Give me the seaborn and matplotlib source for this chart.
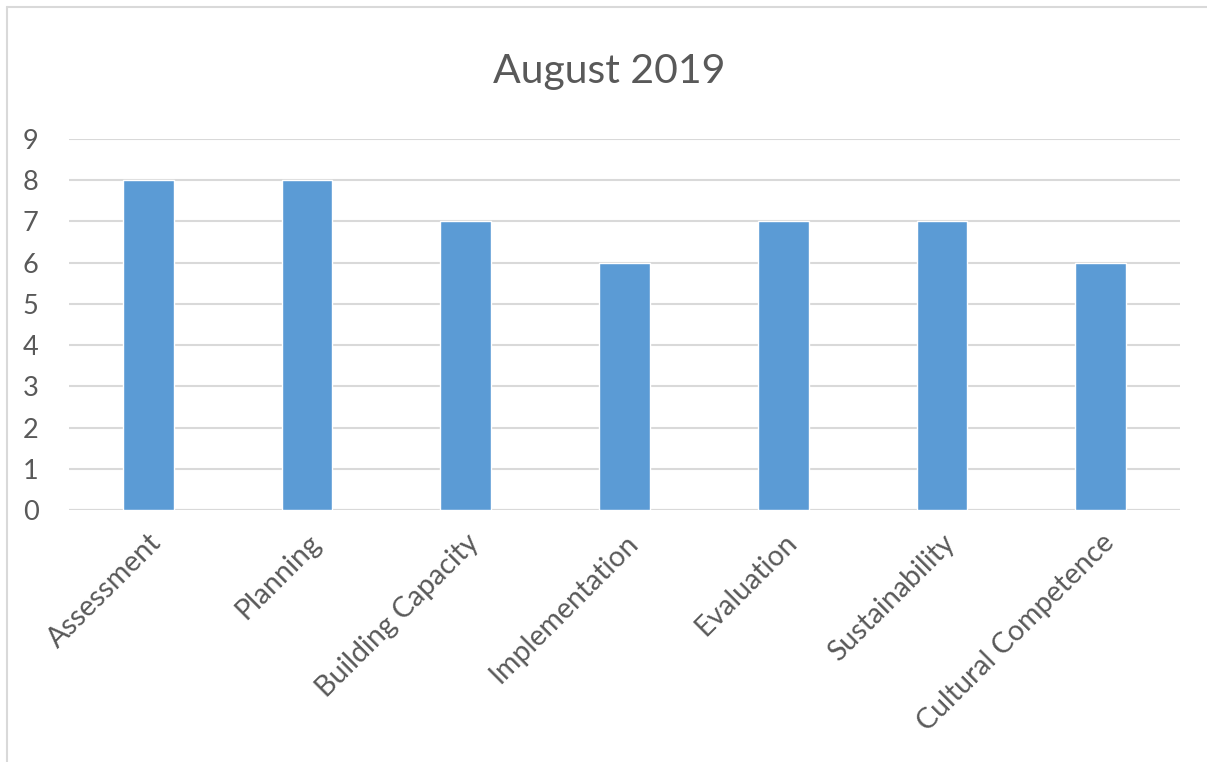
import matplotlib
matplotlib.use("Agg")
import matplotlib.pyplot as plt
from matplotlib.lines import Line2D
import seaborn as sns
import pandas as pd

# values
categories = ["Assessment", "Planning", "Building Capacity", "Implementation",
              "Evaluation", "Sustainability", "Cultural Competence"]
scores = [8, 8, 7, 6, 7, 7, 6]
yticks = list(range(0, 10))

sns.set_style("white")
plt.rcParams["font.family"] = ["Lato", "DejaVu Sans"]

df = pd.DataFrame({"area": categories, "score": scores})

fig = plt.figure(figsize=(12.07, 7.62), dpi=100)
ax = fig.add_axes([0.0572, 0.3307, 0.9204, 0.4869])

sns.barplot(data=df, x="area", y="score", color="#5B9BD5", width=0.32,
            saturation=1, ax=ax, zorder=3)

ax.set_ylim(0, 9)
ax.set_yticks(yticks)
ax.set_xlim(-0.5, len(categories) - 0.5)
ax.yaxis.grid(True, color="#D9D9D9", linewidth=1.5, zorder=0)
ax.set_axisbelow(True)
for s in ax.spines.values():
    s.set_visible(False)
ax.axhline(0, color="#D9D9D9", linewidth=1.5, zorder=2)

ax.set_xlabel("")
ax.set_ylabel("")
ax.tick_params(axis="both", length=0, labelsize=19.5, labelcolor="#595959")
ax.tick_params(axis="x", labelsize=20.5, pad=14)
ax.tick_params(axis="y", pad=22)
plt.setp(ax.get_xticklabels(), rotation=45, ha="right", rotation_mode="anchor")

fig.text(0.505, 0.906, "August 2019", ha="center", va="center",
         fontsize=29.5, color="#595959")

# outer chart frame (left and top edges visible)
fig.add_artist(Line2D([0.006, 0.006], [0, 0.991], color="#D9D9D9", linewidth=1.5))
fig.add_artist(Line2D([0.006, 1.0], [0.991, 0.991], color="#D9D9D9", linewidth=1.5))

fig.savefig("out.png", dpi=100)
